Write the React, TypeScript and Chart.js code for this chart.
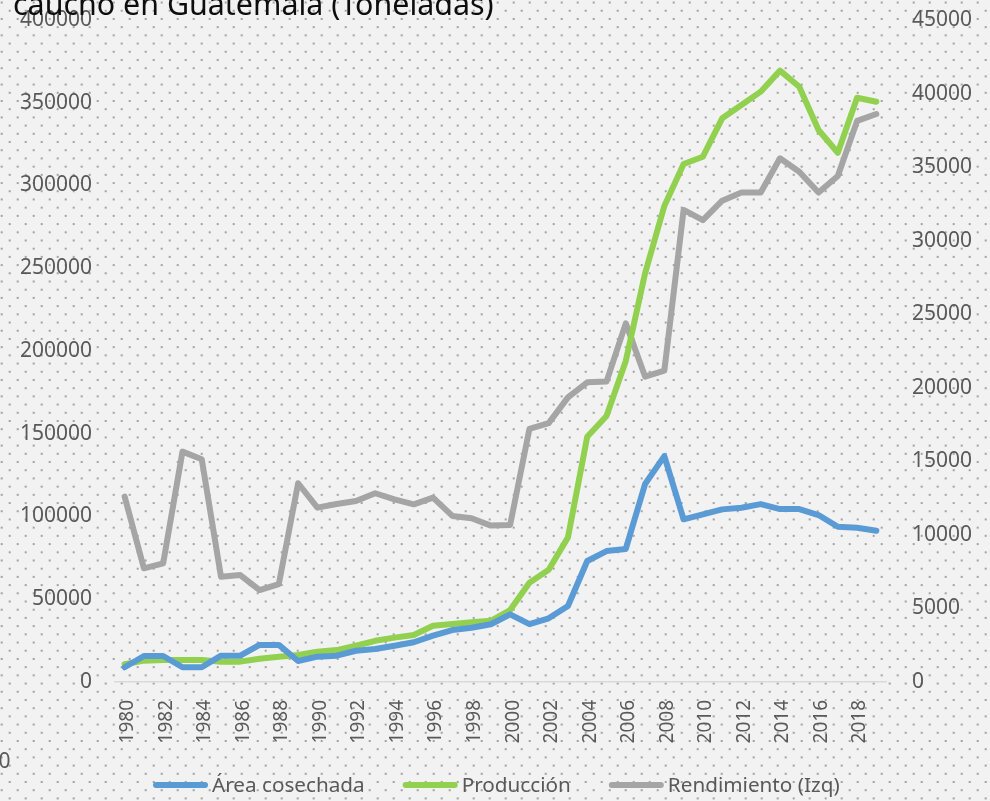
import React, { useEffect, useRef } from 'react';
import { Chart, registerables } from 'chart.js';

Chart.register(...registerables);

const years = [
  '1980', '1981', '1982', '1983', '1984', '1985', '1986', '1987', '1988', '1989',
  '1990', '1991', '1992', '1993', '1994', '1995', '1996', '1997', '1998', '1999',
  '2000', '2001', '2002', '2003', '2004', '2005', '2006', '2007', '2008', '2009',
  '2010', '2011', '2012', '2013', '2014', '2015', '2016', '2017', '2018', '2019',
];

const xTickLabels = [
  '1980', '1982', '1984', '1986', '1988', '1990', '1992', '1994', '1996', '1998',
  '2000', '2002', '2004', '2006', '2008', '2010', '2012', '2014', '2016', '2018',
];

const areaCosechada = [
  8900, 15700, 15700, 8900, 8900, 15900, 15900, 22400, 22400, 12700,
  15300, 15900, 18900, 19900, 21900, 24000, 28000, 31400, 32800, 34900,
  40900, 35000, 38500, 45900, 73100, 79100, 80400, 119600, 136500, 98300,
  101300, 104300, 105300, 107500, 104500, 104500, 100900, 93800, 93200, 91400,
];

const produccion = [
  10700, 12900, 13300, 13300, 13300, 12300, 12300, 14100, 15300, 16300,
  18300, 19300, 21900, 24900, 26800, 28400, 34000, 35000, 36100, 37000,
  43500, 60000, 67800, 87400, 148200, 160700, 194000, 246900, 287600, 313000,
  317400, 340600, 348600, 356700, 369400, 359700, 333500, 319800, 353000, 350600,
];

const rendimiento = [
  12600, 7730, 8070, 15660, 15140, 7160, 7270, 6250, 6660, 13510,
  11850, 12100, 12300, 12830, 12420, 12080, 12530, 11290, 11130, 10630,
  10670, 17200, 17600, 19350, 20370, 20420, 24380, 20760, 21170, 32090,
  31400, 32720, 33270, 33270, 35600, 34690, 33270, 34400, 38140, 38610,
];

const leftTicks = { min: 0, max: 400000, step: 50000 };
const rightTicks = { min: 0, max: 45000, step: 5000 };

const titleText = 'caucho en Guatemala (Toneladas)';
const strayLabel = '0';

const FONT = "'Noto Sans', 'Open Sans', sans-serif";
const TICK_COLOR = '#595959';
const COLORS = ['#5b9bd5', '#92d050', '#a5a5a5'];

const backgroundPlugin = {
  id: 'excelBackground',
  beforeDraw(chart: any) {
    const { ctx, width, height } = chart;
    ctx.save();
    ctx.fillStyle = '#f2f2f2';
    ctx.fillRect(0, 0, width, height);
    ctx.fillStyle = '#a3a3a3';
    const rowStep = 8.205;
    const y0 = 101 - 12 * rowStep;
    for (let r = 0; y0 + r * rowStep < height + 2; r++) {
      const y = y0 + r * rowStep;
      const xStart = r % 2 === 0 ? 1.7 : 9.7;
      for (let x = xStart; x < width + 2; x += 16) {
        ctx.fillRect(x - 1, y - 1, 2, 2);
      }
    }
    ctx.restore();
  },
};

const overlayPlugin = {
  id: 'excelOverlay',
  afterDraw(chart: any) {
    const { ctx } = chart;
    ctx.save();
    // Title (partially cut off at the top)
    ctx.fillStyle = '#0d0d0d';
    ctx.font = `30.4px ${FONT}`;
    ctx.textAlign = 'left';
    ctx.textBaseline = 'alphabetic';
    ctx.fillText(titleText, 13, 15);

    // stray label at the bottom-left edge
    ctx.fillStyle = TICK_COLOR;
    ctx.font = `21px ${FONT}`;
    ctx.textAlign = 'right';
    ctx.textBaseline = 'middle';
    ctx.fillText(strayLabel, 10.5, 762);

    // Legend
    ctx.font = `20.7px ${FONT}`;
    ctx.textAlign = 'left';
    ctx.textBaseline = 'middle';
    const ly = 785;
    let x = 153;
    chart.data.datasets.forEach((ds: any) => {
      ctx.strokeStyle = ds.borderColor;
      ctx.lineWidth = 6;
      ctx.lineCap = 'round';
      ctx.beginPath();
      ctx.moveTo(x + 3, ly);
      ctx.lineTo(x + 55 - 3, ly);
      ctx.stroke();
      x += 59;
      ctx.fillStyle = TICK_COLOR;
      ctx.fillText(ds.label, x, ly + 1);
      x += ctx.measureText(ds.label).width + 38;
    });
    ctx.restore();
  },
};

export default function App() {
  const canvasRef = useRef<HTMLCanvasElement | null>(null);

  useEffect(() => {
    const canvas = canvasRef.current;
    if (!canvas) return;
    const lineDefaults = {
      borderWidth: 6,
      pointRadius: 0,
      pointHoverRadius: 0,
      tension: 0,
      borderJoinStyle: 'round' as const,
      borderCapStyle: 'round' as const,
      fill: false,
    };
    const chart = new Chart(canvas, {
      type: 'line',
      data: {
        labels: years,
        datasets: [
          { label: 'Área cosechada', data: areaCosechada, borderColor: COLORS[0], backgroundColor: COLORS[0], yAxisID: 'y', ...lineDefaults },
          { label: 'Producción', data: produccion, borderColor: COLORS[1], backgroundColor: COLORS[1], yAxisID: 'y', ...lineDefaults },
          { label: 'Rendimiento (Izq)', data: rendimiento, borderColor: COLORS[2], backgroundColor: COLORS[2], yAxisID: 'y1', ...lineDefaults },
        ],
      },
      options: {
        responsive: false,
        animation: false,
        devicePixelRatio: 1,
        layout: { padding: { left: 0, right: 0, top: 20, bottom: 0 } },
        plugins: {
          legend: { display: false },
          tooltip: { enabled: false },
          title: { display: false },
        },
        scales: {
          x: {
            offset: true,
            grid: { display: false, drawTicks: false },
            border: { display: true, color: '#d9d9d9', width: 1.5 },
            ticks: {
              autoSkip: false,
              minRotation: 90,
              maxRotation: 90,
              padding: 18,
              labelOffset: 3,
              color: TICK_COLOR,
              font: { family: FONT, size: 19 },
              callback: (_v: any, i: number) => (xTickLabels.includes(years[i]) ? years[i] : ''),
            },
            afterFit: (s: any) => { s.height = 119; s.paddingLeft = 0; s.paddingRight = 0; },
          },
          y: {
            position: 'left',
            min: leftTicks.min,
            max: leftTicks.max,
            grid: { display: false, drawTicks: false },
            border: { display: false },
            ticks: {
              stepSize: leftTicks.step,
              padding: 23,
              color: TICK_COLOR,
              font: { family: FONT, size: 21 },
              callback: (v: any) => String(v),
            },
            afterFit: (s: any) => { s.width = 115; s.paddingTop = 0; s.paddingBottom = 0; },
          },
          y1: {
            position: 'right',
            min: rightTicks.min,
            max: rightTicks.max,
            grid: { display: false, drawTicks: false },
            border: { display: false },
            ticks: {
              stepSize: rightTicks.step,
              padding: 26,
              color: TICK_COLOR,
              font: { family: FONT, size: 21 },
              callback: (v: any) => String(v),
            },
            afterFit: (s: any) => { s.width = 104; s.paddingTop = 0; s.paddingBottom = 0; },
          },
        },
      },
      plugins: [backgroundPlugin, overlayPlugin],
    });
    return () => chart.destroy();
  }, []);

  return (
    <div style={{ position: 'fixed', left: 0, top: 0, width: 990, height: 801 }}>
      <canvas ref={canvasRef} width={990} height={801} style={{ width: 990, height: 801, display: 'block' }} />
    </div>
  );
}
